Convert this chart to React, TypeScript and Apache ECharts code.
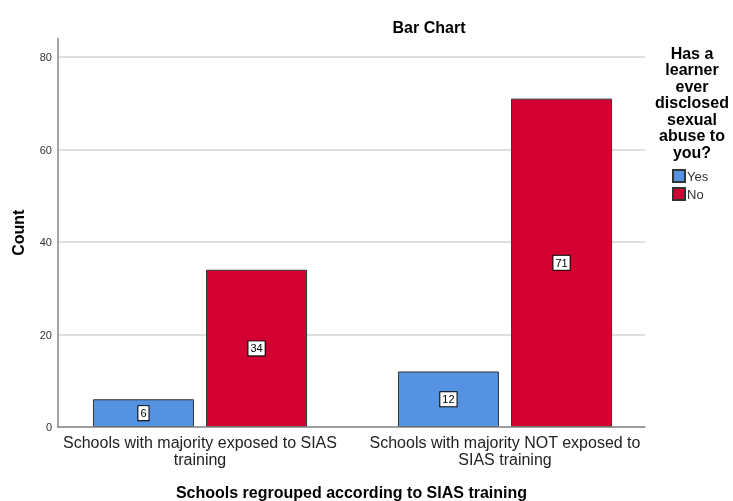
import React, { useEffect, useRef } from "react";
import * as echarts from "echarts";

const categories = [
  "Schools with majority exposed to SIAS\ntraining",
  "Schools with majority NOT exposed to\nSIAS training",
];
const yesValues = [6, 12];
const noValues = [34, 71];
const seriesNames = ["Yes", "No"];
const yMax = 84;
const gridMax = 80;
const tickStep = 20;
const legendTitle = "Has a\nlearner\never\ndisclosed\nsexual\nabuse to\nyou?";

const FONT = "'Liberation Sans', Arial, sans-serif";

export default function App() {
  const ref = useRef<HTMLDivElement>(null);
  useEffect(() => {
    if (!ref.current) return;
    const chart = echarts.init(ref.current, undefined, { renderer: "svg" });
    const labelCfg = {
      show: true,
      position: "inside",
      color: "#000",
      fontFamily: FONT,
      fontSize: 11,
      backgroundColor: "#fff",
      borderColor: "#000",
      borderWidth: 1,
      padding: [2, 2, 1, 2],
    };
    const plotBottom = 74;
    const plotTop = 38.5;
    const plotH = 501 - plotTop - plotBottom;
    const gridLineTop = plotTop + ((yMax - gridMax) / yMax) * plotH;
    chart.setOption({
      animation: false,
      textStyle: { fontFamily: FONT },
      title: {
        text: "Bar Chart",
        left: 424,
        top: 14,
        textAlign: "center",
        textStyle: { fontFamily: FONT, fontSize: 16, fontWeight: "bold", color: "#000" },
      },
      grid: [
        { left: 58, right: 88, top: plotTop, bottom: plotBottom, outerBoundsMode: "none", containLabel: false },
        { left: 47.5, right: 75.5, top: plotTop, bottom: plotBottom, outerBoundsMode: "none", containLabel: false },
        { left: 58, right: 88, top: gridLineTop, bottom: plotBottom, outerBoundsMode: "none", containLabel: false },
      ],
      legend: {
        orient: "vertical",
        left: 672,
        top: 169,
        padding: 0,
        itemWidth: 12,
        itemHeight: 12,
        itemGap: 4,
        icon: "rect",
        data: seriesNames,
        textStyle: { fontFamily: FONT, fontSize: 13, color: "#333", padding: [0, 0, 0, -3] },
      },
      graphic: [
        {
          type: "text",
          x: 692,
          y: 45,
          style: {
            text: legendTitle,
            align: "center",
            textAlign: "center",
            font: "bold 16px " + FONT,
            lineHeight: 16.5,
            fill: "#000",
          },
        },
      ],
      xAxis: [
        {
          gridIndex: 0,
          type: "category",
          data: categories,
          name: "Schools regrouped according to SIAS training",
          nameLocation: "middle",
          nameGap: 57,
          nameTextStyle: { fontFamily: FONT, fontSize: 16, fontWeight: "bold", color: "#000" },
          axisLine: { lineStyle: { color: "#888", width: 1.5 } },
          axisTick: { show: false },
          axisLabel: { show: false },
          z: 5,
        },
        {
          gridIndex: 1,
          type: "category",
          data: categories,
          axisLine: { show: false },
          axisTick: { show: false },
          axisLabel: {
            interval: 0,
            fontFamily: FONT,
            fontSize: 16,
            color: "#222",
            lineHeight: 17,
            margin: 7,
          },
        },
        {
          gridIndex: 2,
          type: "category",
          data: categories,
          show: false,
        },
      ],
      yAxis: [
        {
          gridIndex: 0,
          type: "value",
          min: 0,
          max: yMax,
          interval: tickStep,
          name: "Count",
          nameLocation: "middle",
          nameGap: 31.5,
          nameTextStyle: { fontFamily: FONT, fontSize: 16, fontWeight: "bold", color: "#000" },
          axisLine: { show: true, lineStyle: { color: "#888", width: 1.5 } },
          axisTick: { show: false },
          splitLine: { show: false },
          axisLabel: {
            fontFamily: FONT,
            fontSize: 11,
            color: "#333",
            margin: 6,
            formatter: (v: number) => (v % tickStep === 0 ? String(v) : ""),
          },
          z: 5,
        },
        {
          gridIndex: 1,
          type: "value",
          min: 0,
          max: yMax,
          show: false,
          splitLine: { show: false },
        },
        {
          gridIndex: 2,
          type: "value",
          min: 0,
          max: gridMax,
          interval: tickStep,
          axisLine: { show: false },
          axisTick: { show: false },
          axisLabel: { show: false },
          splitLine: { show: true, lineStyle: { color: "#d4d4d4", width: 1.5 } },
        },
      ],
      series: [
        {
          name: seriesNames[0],
          type: "bar",
          xAxisIndex: 1,
          yAxisIndex: 1,
          data: yesValues,
          barWidth: 101,
          barGap: "12%",
          itemStyle: { color: "#5592e2", borderColor: "#333", borderWidth: 1 },
          label: labelCfg,
        },
        {
          name: seriesNames[1],
          type: "bar",
          xAxisIndex: 1,
          yAxisIndex: 1,
          data: noValues,
          barWidth: 101,
          itemStyle: { color: "#d50032", borderColor: "#333", borderWidth: 1 },
          label: labelCfg,
        },
      ],
    });
    return () => chart.dispose();
  }, []);
  return (
    <div
      ref={ref}
      style={{ width: 733, height: 501, position: "fixed", left: 0, top: 0 }}
    />
  );
}
